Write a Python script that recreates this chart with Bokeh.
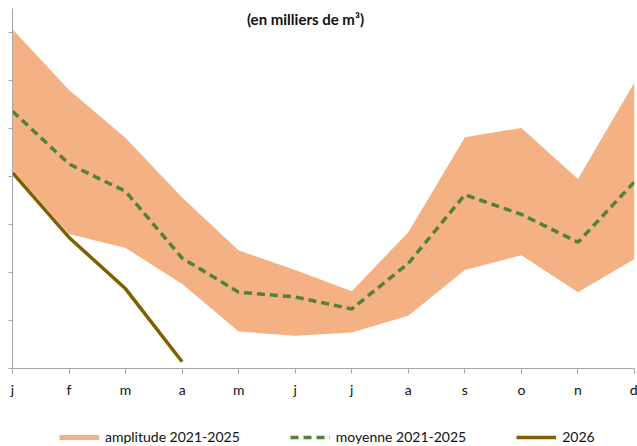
from bokeh.plotting import figure
from bokeh.layouts import column
from bokeh.models import Range1d, FixedTicker, Legend, LegendItem, Label
from bokeh.embed import file_html
from bokeh.resources import INLINE

months = ["j", "f", "m", "a", "m", "j", "j", "a", "s", "o", "n", "d"]
x_idx = list(range(12))
amp_high = [707, 580, 480, 356, 246, 205, 161, 284, 482, 501, 395, 596]
amp_low = [414, 280, 251, 176, 77, 68, 75, 110, 205, 236, 159, 228]
moyenne = [536, 426, 369, 230, 159, 149, 124, 219, 362, 321, 263, 389]
y2026 = [408, 273, 166, 14]
y_ticks = [0, 100, 200, 300, 400, 500, 600, 700]

FONT = "Lato"
C_BAND = "#F4B183"
C_MOY = "#548235"
C_26 = "#7F6000"

p = figure(width=637, height=400, x_range=Range1d(0, 11), y_range=Range1d(0, 750),
           output_backend="svg", toolbar_location=None,
           min_border_left=12, min_border_right=3, min_border_top=8, min_border_bottom=30)
p.outline_line_color = None
p.xgrid.visible = False
p.ygrid.visible = False

p.varea(x=x_idx, y1=amp_low, y2=amp_high, fill_color=C_BAND, fill_alpha=1.0)
p.line(x=x_idx, y=moyenne, line_color=C_MOY, line_width=3.5, line_dash="8 5")
p.line(x=x_idx[:len(y2026)], y=y2026, line_color=C_26, line_width=3.5)

axis_col = "#A6A6A6"
xa = p.xaxis[0]
xa.ticker = FixedTicker(ticks=x_idx)
xa.major_label_overrides = {i: m for i, m in enumerate(months)}
xa.axis_line_color = axis_col
xa.major_tick_line_color = axis_col
xa.major_tick_out = 5
xa.major_tick_in = 0
xa.minor_tick_line_color = None
xa.major_label_standoff = 7
xa.major_label_text_font = FONT
xa.major_label_text_font_size = "14px"
xa.major_label_text_color = "#111111"

ya = p.yaxis[0]
ya.ticker = FixedTicker(ticks=y_ticks)
ya.major_label_overrides = {t: "" for t in y_ticks}
ya.axis_line_color = axis_col
ya.major_tick_line_color = axis_col
ya.major_tick_out = 4
ya.major_tick_in = 0
ya.minor_tick_line_color = None
ya.major_label_text_color = None
ya.major_label_standoff = 0

title = Label(x=293, y=750, x_units="screen", y_units="data", y_offset=-1,
              text="(en milliers de m³)",
              text_align="center", text_baseline="top", text_font=FONT,
              text_font_size="15px", text_font_style="bold", text_color="#111111")
p.add_layout(title)

# legend strip below the chart (its renderers lie outside its visible range)
pl = figure(width=637, height=46, x_range=Range1d(100, 101), y_range=Range1d(5000, 5001),
            output_backend="svg", toolbar_location=None,
            x_axis_type=None, y_axis_type=None,
            min_border_left=0, min_border_right=0, min_border_top=0, min_border_bottom=0)
pl.outline_line_color = None
pl.xgrid.visible = False
pl.ygrid.visible = False
r_band = pl.line(x=x_idx, y=amp_high, line_color=C_BAND, line_width=5)
r_moy = pl.line(x=x_idx, y=moyenne, line_color=C_MOY, line_width=3.5, line_dash="8 5")
r_26 = pl.line(x=x_idx[:len(y2026)], y=y2026, line_color=C_26, line_width=3.5)

legend = Legend(items=[
    LegendItem(label="amplitude 2021-2025", renderers=[r_band]),
    LegendItem(label="moyenne 2021-2025", renderers=[r_moy]),
    LegendItem(label="2026", renderers=[r_26]),
], orientation="horizontal", location=(47, 1))
legend.glyph_width = 40
legend.glyph_height = 6
legend.label_height = 16
legend.label_standoff = 6
legend.spacing = 50
legend.padding = 0
legend.margin = 0
legend.border_line_color = None
legend.background_fill_alpha = 0
legend.label_text_font = FONT
legend.label_text_font_size = "14px"
legend.label_text_color = "#111111"
pl.add_layout(legend)

layout = column(p, pl, spacing=0)
open("out.html", "w").write(file_html(layout, INLINE))
